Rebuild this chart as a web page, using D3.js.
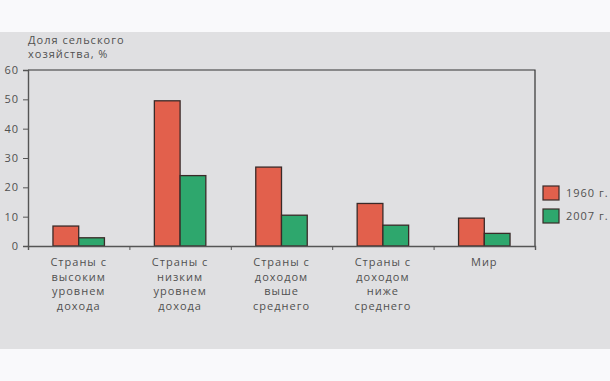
<!DOCTYPE html>
<html>
<head>
<meta charset="utf-8">
<script src="https://cdn.jsdelivr.net/npm/d3@7"></script>
<style>
  body { margin: 0; background: #f9f9fb; }
  text { font-family: "Open Sans", "Noto Sans", sans-serif; fill: #505050; letter-spacing: 1px; }
</style>
</head>
<body>
<div id="chart"></div>
<script>
// chart data
var categories = ["high", "low", "upperMid", "lowerMid", "world"];
var categoryLabels = [
  ["Страны с", "высоким", "уровнем", "дохода"],
  ["Страны с", "низким", "уровнем", "дохода"],
  ["Страны с", "доходом", "выше", "среднего"],
  ["Страны с", "доходом", "ниже", "среднего"],
  ["Мир"]
];
var seriesNames = ["1960 г.", "2007 г."];
var values1960 = [6.8, 49.5, 26.9, 14.5, 9.5];
var values2007 = [2.8, 24.0, 10.5, 7.1, 4.3];
var yTicks = [0, 10, 20, 30, 40, 50, 60];
var colors = ["#e2604c", "#2ea76d"];

var svgWidth = 610;
var svgHeight = 381;

var margin = { top: 70, right: 75, bottom: 135, left: 28 };
var width = 535 - margin.left;
var height = 246 - margin.top;

var svg = d3.select("#chart").append("svg")
  .attr("width", svgWidth)
  .attr("height", svgHeight);

// gray panel
svg.append("rect")
  .attr("x", 0).attr("y", 32)
  .attr("width", svgWidth).attr("height", 317)
  .attr("fill", "#e0e0e2");

var chartGroup = svg.append("g")
  .attr("transform", `translate(${margin.left}, ${margin.top})`);

var x0 = d3.scaleBand().domain(categories).range([0, width]);
var x1 = d3.scaleBand().domain(seriesNames).range([0, x0.bandwidth()]).paddingOuter(0.97);
var y = d3.scaleLinear().domain([0, 60]).range([height, 0]);

// frame top + right
chartGroup.append("path")
  .attr("d", `M0,0H${width}V${height}`)
  .attr("fill", "none")
  .attr("stroke", "#333")
  .attr("stroke-width", 1.2);

// y axis
var leftAxis = d3.axisLeft(y).tickValues(yTicks).tickSize(5).tickPadding(4);
var yAxis = chartGroup.append("g").call(leftAxis);
yAxis.select(".domain").attr("stroke", "#555").attr("stroke-width", 1.4);
yAxis.selectAll(".tick line").attr("stroke", "#555");
yAxis.selectAll("text").attr("font-size", 11).attr("fill", "#505050")
  .attr("font-family", "Open Sans, Noto Sans, sans-serif");

// bars
var rows = categories.map((c, i) => ({ cat: c, vals: [values1960[i], values2007[i]] }));
var groups = chartGroup.selectAll(".grp")
  .data(rows)
  .enter()
  .append("g")
  .attr("transform", d => `translate(${x0(d.cat)},0)`);

groups.selectAll("rect")
  .data(d => d.vals.map((v, j) => ({ s: seriesNames[j], v: v, j: j })))
  .enter()
  .append("rect")
  .attr("x", d => x1(d.s))
  .attr("y", d => y(d.v))
  .attr("width", x1.bandwidth())
  .attr("height", d => height - y(d.v))
  .attr("fill", d => colors[d.j])
  .attr("stroke", "#3a2a28")
  .attr("stroke-width", 1.3);

// x axis: ticks at band edges
var xEdges = d3.scaleLinear().domain([0, categories.length]).range([0, width]);
var bottomAxis = d3.axisBottom(xEdges).ticks(categories.length).tickFormat("").tickSize(4);
var xAxis = chartGroup.append("g")
  .attr("transform", `translate(0, ${height})`)
  .call(bottomAxis);
xAxis.select(".domain").attr("stroke", "#555").attr("stroke-width", 1.4);
xAxis.selectAll(".tick line").attr("stroke", "#555");

// category labels
var labelGroup = chartGroup.selectAll(".catlabel")
  .data(categories)
  .enter()
  .append("text")
  .attr("text-anchor", "middle")
  .attr("font-size", 11)
  .attr("y", height + 20);

labelGroup.each(function(d, i) {
  var t = d3.select(this);
  categoryLabels[i].forEach((line, k) => {
    t.append("tspan")
      .attr("x", x0(d) + x0.bandwidth() / 2)
      .attr("dy", k === 0 ? 0 : 14.5)
      .text(line);
  });
});

// y title
var title = svg.append("text")
  .attr("x", 28)
  .attr("y", 44)
  .attr("font-size", 11);
title.append("tspan").attr("x", 28).text("Доля сельского");
title.append("tspan").attr("x", 28).attr("dy", 14).text("хозяйства, %");

// legend
var legend = svg.selectAll(".legend")
  .data(seriesNames)
  .enter()
  .append("g")
  .attr("transform", (d, i) => `translate(543, ${186 + i * 23})`);

legend.append("rect")
  .attr("width", 16)
  .attr("height", 14)
  .attr("fill", (d, i) => colors[i])
  .attr("stroke", "#3a2a28")
  .attr("stroke-width", 1.2);

legend.append("text")
  .attr("x", 23)
  .attr("y", 11)
  .attr("font-size", 11)
  .text(d => d);
</script>
</body>
</html>
